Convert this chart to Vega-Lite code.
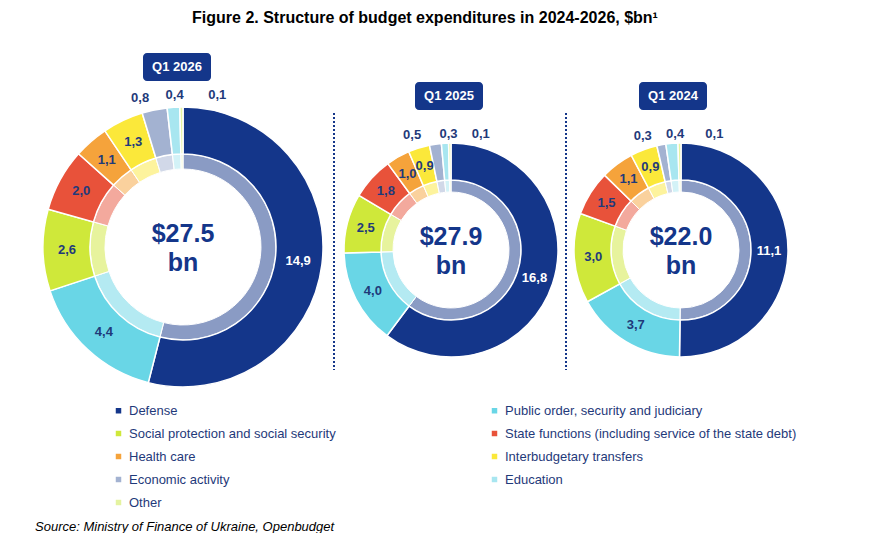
{
  "$schema": "https://vega.github.io/schema/vega-lite/v6.json",
  "width": 888,
  "height": 503,
  "autosize": "none",
  "padding": {"top": 30, "left": 0, "right": 0, "bottom": 0},
  "background": "white",
  "title": {"text": "Figure 2. Structure of budget expenditures in 2024-2026, $bn¹", "anchor": "middle", "dx": -19, "fontSize": 16, "font": "Liberation Sans", "fontWeight": "bold", "color": "black", "offset": 4},
  "datasets": {
    "budget": [
      {"q": "Q1 2026", "idx": 1, "category": "Defense", "value": 14.9},
      {"q": "Q1 2026", "idx": 2, "category": "Public order, security and judiciary", "value": 4.4},
      {"q": "Q1 2026", "idx": 3, "category": "Social protection and social security", "value": 2.6},
      {"q": "Q1 2026", "idx": 4, "category": "State functions (including service of the state debt)", "value": 2.0},
      {"q": "Q1 2026", "idx": 5, "category": "Health care", "value": 1.1},
      {"q": "Q1 2026", "idx": 6, "category": "Interbudgetary transfers", "value": 1.3},
      {"q": "Q1 2026", "idx": 7, "category": "Economic activity", "value": 0.8},
      {"q": "Q1 2026", "idx": 8, "category": "Education", "value": 0.4},
      {"q": "Q1 2026", "idx": 9, "category": "Other", "value": 0.1},
      {"q": "Q1 2025", "idx": 1, "category": "Defense", "value": 16.8},
      {"q": "Q1 2025", "idx": 2, "category": "Public order, security and judiciary", "value": 4.0},
      {"q": "Q1 2025", "idx": 3, "category": "Social protection and social security", "value": 2.5},
      {"q": "Q1 2025", "idx": 4, "category": "State functions (including service of the state debt)", "value": 1.8},
      {"q": "Q1 2025", "idx": 5, "category": "Health care", "value": 1.0},
      {"q": "Q1 2025", "idx": 6, "category": "Interbudgetary transfers", "value": 0.9},
      {"q": "Q1 2025", "idx": 7, "category": "Economic activity", "value": 0.5},
      {"q": "Q1 2025", "idx": 8, "category": "Education", "value": 0.3},
      {"q": "Q1 2025", "idx": 9, "category": "Other", "value": 0.1},
      {"q": "Q1 2024", "idx": 1, "category": "Defense", "value": 11.1},
      {"q": "Q1 2024", "idx": 2, "category": "Public order, security and judiciary", "value": 3.7},
      {"q": "Q1 2024", "idx": 3, "category": "Social protection and social security", "value": 3.0},
      {"q": "Q1 2024", "idx": 4, "category": "State functions (including service of the state debt)", "value": 1.5},
      {"q": "Q1 2024", "idx": 5, "category": "Health care", "value": 1.1},
      {"q": "Q1 2024", "idx": 6, "category": "Interbudgetary transfers", "value": 0.9},
      {"q": "Q1 2024", "idx": 7, "category": "Economic activity", "value": 0.3},
      {"q": "Q1 2024", "idx": 8, "category": "Education", "value": 0.4},
      {"q": "Q1 2024", "idx": 9, "category": "Other", "value": 0.1}
    ]
  },
  "data": {"name": "budget"},
  "layer": [
    {
      "transform": [{"filter": "datum.q == 'Q1 2026'"}],
      "encoding": {
        "theta": {"field": "value", "type": "quantitative", "stack": true},
        "order": {"field": "idx", "type": "quantitative"}
      },
      "layer": [
        {"mark": {"type": "arc", "x": 183, "y": 217, "radius": 93, "radius2": 78, "stroke": "white", "strokeWidth": 1},
          "encoding": {"color": {"field": "category", "type": "nominal",
            "scale": {
              "domain": ["Defense", "Social protection and social security", "Health care", "Economic activity", "Other", "Public order, security and judiciary", "State functions (including service of the state debt)", "Interbudgetary transfers", "Education"],
              "range": ["#14368a", "#cfe83a", "#f5a33b", "#a3b2d1", "#e4f3a0", "#69d6e6", "#e8523a", "#fbe83a", "#a8e6f0"]
            }}}},
        {"mark": {"type": "arc", "x": 183, "y": 217, "radius": 93, "radius2": 78, "opacity": 0.5, "stroke": "white", "strokeWidth": 1},
          "encoding": {"color": {"value": "white"}}},
        {"mark": {"type": "arc", "x": 183, "y": 217, "radius": 140, "radius2": 93, "stroke": "white", "strokeWidth": 1.5},
          "encoding": {"color": {"field": "category", "type": "nominal"}}},
        {"mark": {"type": "text", "x": 183, "y": 217, "radius": 116, "font": "Liberation Sans", "fontWeight": "bold", "fontSize": 13},
          "encoding": {
            "text": {"condition": {"test": "datum.value >= 0.9", "field": "value", "type": "quantitative", "format": ".1f"}, "value": ""},
            "color": {"condition": {"test": "datum.category == 'Defense'", "value": "white"}, "value": "#1f3a7a"}
          }},
        {"mark": {"type": "text", "x": 183, "y": 217, "radius": 152, "font": "Liberation Sans", "fontWeight": "bold", "fontSize": 13,
          "dx": {"expr": "datum.category == 'Other' ? 36 : datum.category == 'Education' ? 2 : -12"}},
          "encoding": {
            "text": {"condition": {"test": "datum.value < 0.9", "field": "value", "type": "quantitative", "format": ".1f"}, "value": ""},
            "color": {"value": "#1f3a7a"}
          }}
      ]
    },
    {
      "transform": [{"filter": "datum.q == 'Q1 2025'"}],
      "encoding": {
        "theta": {"field": "value", "type": "quantitative", "stack": true},
        "order": {"field": "idx", "type": "quantitative"}
      },
      "layer": [
        {"mark": {"type": "arc", "x": 451, "y": 220, "radius": 70, "radius2": 58, "stroke": "white", "strokeWidth": 1},
          "encoding": {"color": {"field": "category", "type": "nominal"}}},
        {"mark": {"type": "arc", "x": 451, "y": 220, "radius": 70, "radius2": 58, "opacity": 0.5, "stroke": "white", "strokeWidth": 1},
          "encoding": {"color": {"value": "white"}}},
        {"mark": {"type": "arc", "x": 451, "y": 220, "radius": 107, "radius2": 70, "stroke": "white", "strokeWidth": 1.5},
          "encoding": {"color": {"field": "category", "type": "nominal"}}},
        {"mark": {"type": "text", "x": 451, "y": 220, "radius": 88, "font": "Liberation Sans", "fontWeight": "bold", "fontSize": 13},
          "encoding": {
            "text": {"condition": {"test": "datum.value >= 0.9", "field": "value", "type": "quantitative", "format": ".1f"}, "value": ""},
            "color": {"condition": {"test": "datum.category == 'Defense'", "value": "white"}, "value": "#1f3a7a"}
          }},
        {"mark": {"type": "text", "x": 451, "y": 220, "radius": 116, "font": "Liberation Sans", "fontWeight": "bold", "fontSize": 13,
          "dx": {"expr": "datum.category == 'Other' ? 31 : datum.category == 'Education' ? 4 : -22"}},
          "encoding": {
            "text": {"condition": {"test": "datum.value < 0.9", "field": "value", "type": "quantitative", "format": ".1f"}, "value": ""},
            "color": {"value": "#1f3a7a"}
          }}
      ]
    },
    {
      "transform": [{"filter": "datum.q == 'Q1 2024'"}],
      "encoding": {
        "theta": {"field": "value", "type": "quantitative", "stack": true},
        "order": {"field": "idx", "type": "quantitative"}
      },
      "layer": [
        {"mark": {"type": "arc", "x": 681, "y": 220, "radius": 70, "radius2": 58, "stroke": "white", "strokeWidth": 1},
          "encoding": {"color": {"field": "category", "type": "nominal"}}},
        {"mark": {"type": "arc", "x": 681, "y": 220, "radius": 70, "radius2": 58, "opacity": 0.5, "stroke": "white", "strokeWidth": 1},
          "encoding": {"color": {"value": "white"}}},
        {"mark": {"type": "arc", "x": 681, "y": 220, "radius": 107, "radius2": 70, "stroke": "white", "strokeWidth": 1.5},
          "encoding": {"color": {"field": "category", "type": "nominal"}}},
        {"mark": {"type": "text", "x": 681, "y": 220, "radius": 88, "font": "Liberation Sans", "fontWeight": "bold", "fontSize": 13},
          "encoding": {
            "text": {"condition": {"test": "datum.value >= 0.9", "field": "value", "type": "quantitative", "format": ".1f"}, "value": ""},
            "color": {"condition": {"test": "datum.category == 'Defense'", "value": "white"}, "value": "#1f3a7a"}
          }},
        {"mark": {"type": "text", "x": 681, "y": 220, "radius": 116, "font": "Liberation Sans", "fontWeight": "bold", "fontSize": 13,
          "dx": {"expr": "datum.category == 'Other' ? 35 : datum.category == 'Education' ? 4 : -17"}},
          "encoding": {
            "text": {"condition": {"test": "datum.value < 0.9", "field": "value", "type": "quantitative", "format": ".1f"}, "value": ""},
            "color": {"value": "#1f3a7a"}
          }}
      ]
    },
    {
      "data": {"values": [
        {"q": "Q1 2026", "total": "$27.5", "cx": 183, "cy": 217, "bx": 177, "by": 37},
        {"q": "Q1 2025", "total": "$27.9", "cx": 451, "cy": 220, "bx": 449, "by": 66},
        {"q": "Q1 2024", "total": "$22.0", "cx": 681, "cy": 220, "bx": 673, "by": 66}
      ]},
      "layer": [
        {"mark": {"type": "text", "dy": -13, "fontSize": 25, "fontWeight": "bold", "font": "Liberation Sans", "color": "#14368a"},
          "encoding": {
            "x": {"field": "cx", "type": "quantitative", "scale": {"domain": [0, 888], "range": [0, 888]}, "axis": null},
            "y": {"field": "cy", "type": "quantitative", "scale": {"domain": [0, 503], "range": [0, 503]}, "axis": null},
            "text": {"field": "total"}}},
        {"mark": {"type": "text", "dy": 16, "fontSize": 25, "fontWeight": "bold", "font": "Liberation Sans", "color": "#14368a"},
          "encoding": {
            "x": {"field": "cx", "type": "quantitative", "scale": {"domain": [0, 888], "range": [0, 888]}, "axis": null},
            "y": {"field": "cy", "type": "quantitative", "scale": {"domain": [0, 503], "range": [0, 503]}, "axis": null},
            "text": {"value": "bn"}}},
        {"mark": {"type": "rect", "fill": "#14368a", "cornerRadius": 4, "width": 68, "height": 28},
          "encoding": {
            "x": {"field": "bx", "type": "quantitative", "scale": {"domain": [0, 888], "range": [0, 888]}, "axis": null},
            "y": {"field": "by", "type": "quantitative", "scale": {"domain": [0, 503], "range": [0, 503]}, "axis": null}}},
        {"mark": {"type": "text", "fontSize": 13, "fontWeight": "bold", "font": "Liberation Sans", "color": "white"},
          "encoding": {
            "x": {"field": "bx", "type": "quantitative", "scale": {"domain": [0, 888], "range": [0, 888]}, "axis": null},
            "y": {"field": "by", "type": "quantitative", "scale": {"domain": [0, 503], "range": [0, 503]}, "axis": null},
            "text": {"field": "q"}}}
      ]
    },
    {
      "data": {"values": [{"sx": 334}, {"sx": 566}]},
      "mark": {"type": "rule", "y": 83, "y2": 340, "color": "#14368a", "strokeWidth": 2, "strokeDash": [2, 2]},
      "encoding": {"x": {"field": "sx", "type": "quantitative", "scale": {"domain": [0, 888], "range": [0, 888]}, "axis": null}}
    },
    {
      "data": {"values": [{"t": "Source: Ministry of Finance of Ukraine, Openbudget"}]},
      "mark": {"type": "text", "x": 35, "y": 497, "align": "left", "fontSize": 13, "fontStyle": "italic", "font": "Liberation Sans", "color": "black"},
      "encoding": {"text": {"field": "t"}}
    }
  ],
  "resolve": {"scale": {"theta": "independent", "x": "independent", "y": "independent"}},
  "config": {
    "view": {"stroke": null},
    "locale": {"number": {"decimal": ",", "thousands": " ", "grouping": [3], "currency": ["$", ""]}},
    "legend": {
      "title": null, "orient": "none", "legendX": 112, "legendY": 374, "columns": 2, "columnPadding": 152,
      "symbolType": "square", "symbolSize": 30, "labelFontSize": 13, "labelColor": "#1f3a7a",
      "labelFont": "Liberation Sans", "rowPadding": 9, "labelLimit": 400, "symbolStrokeWidth": 0
    }
  }
}
